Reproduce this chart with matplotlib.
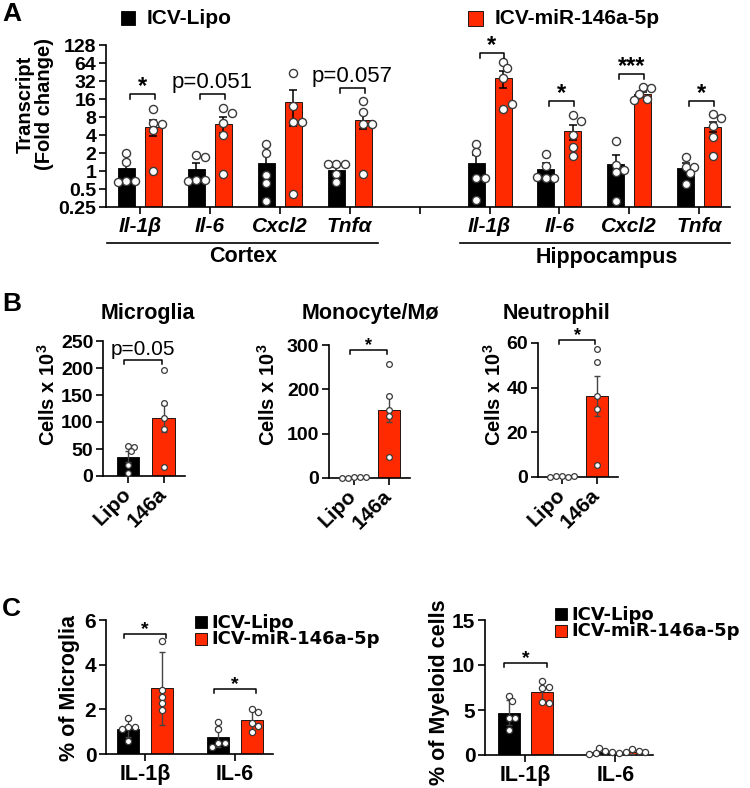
import numpy as np
import matplotlib
matplotlib.use('Agg')
import matplotlib.pyplot as plt
import matplotlib.transforms as mtransforms
from matplotlib.patches import Rectangle
from matplotlib.lines import Line2D
from matplotlib.ticker import NullLocator

plt.rcParams['font.family'] = ['Liberation Sans', 'DejaVu Sans']
plt.rcParams['font.weight'] = 'bold'
plt.rcParams['mathtext.fontset'] = 'custom'
plt.rcParams['mathtext.rm'] = 'Liberation Sans'
plt.rcParams['mathtext.it'] = 'Liberation Sans:italic'
plt.rcParams['mathtext.bf'] = 'Liberation Sans:bold'
plt.rcParams['axes.linewidth'] = 1.2

RED = '#ff2a00'
PT_EDGE = '#3a3a3a'
W, H = 750, 788

# ---------------- panel A: transcript fold change ----------------
genes = ['Il-1β', 'Il-6', 'Cxcl2', 'Tnfα']
regions = ['Cortex', 'Hippocampus']

ctx_lipo_mean = [1.14, 1.10, 1.35, 1.04]
ctx_lipo_sem = [0.35, 0.28, 0.67, 0.14]
ctx_lipo_pts = [[2.0, 1.4, 0.67, 0.67, 0.65], [1.85, 1.7, 0.7, 0.7, 0.68],
                [2.83, 1.97, 0.86, 0.62, 0.31], [1.3, 1.32, 1.3, 0.9, 0.66]]
ctx_mir_mean = [5.5, 6.1, 14.1, 7.1]
ctx_mir_sem = [1.6, 1.8, 8.5, 2.1]
ctx_mir_pts = [[10.9, 6.4, 6.2, 4.8, 1.0], [11.2, 9.4, 6.3, 4.0, 0.9],
               [44, 12.2, 6.7, 6.7, 0.41], [15, 9.8, 6.0, 6.0, 0.9]]

hip_lipo_mean = [1.35, 1.07, 1.31, 1.14]
hip_lipo_sem = [0.5, 0.27, 0.54, 0.2]
hip_lipo_pts = [[2.8, 2.05, 0.75, 0.75, 0.33], [1.9, 1.2, 0.75, 0.75, 0.8],
                [3.2, 1.26, 1.04, 0.95, 0.31], [1.7, 1.18, 1.18, 0.91, 0.6]]
hip_mir_mean = [35.5, 4.66, 19.2, 5.5]
hip_mir_sem = [11.5, 1.3, 1.7, 1.0]
hip_mir_pts = [[67, 53.5, 36, 10.8, 13.2], [8.6, 6.9, 4.0, 2.55, 1.78],
               [25, 24, 19.5, 16, 15.5], [8.9, 7.6, 5.66, 3.7, 1.8]]

ctx_sig = ['*', 'p=0.051', '', 'p=0.057']
ctx_sig_y = [19.2, 19.2, None, 24]
hip_sig = ['*', '*', '***', '*']
hip_sig_y = [95, 14.8, 42, 14.8]

a_yticks = [0.25, 0.5, 1, 2, 4, 8, 16, 32, 64, 128]

# ---------------- panel B: cell counts ----------------
b_titles = ['Microglia', 'Monocyte/Mø', 'Neutrophil']
b_groups = ['Lipo', '146a']
b_lipo_mean = [35.7, 1.5, 0.3]
b_lipo_sem = [10, 0.5, 0.1]
b_lipo_pts = [[55, 54, 46, 20, 6], [1.5, 2, 1, 1.5, 1], [0.3, 0.2, 0.4, 0.3, 0.2]]
b_mir_mean = [107, 154, 36.1]
b_mir_sem = [25, 28, 9]
b_mir_pts = [[196, 136, 107, 86.5, 16], [257, 186, 154, 139, 46.5],
             [57.2, 51.4, 36.4, 30.5, 5.3]]
b_ymax = [250, 300, 60]
b_ystep = [50, 100, 20]
b_sig = ['p=0.05', '*', '*']
b_sig_y = [215, 288, 61.4]

# ---------------- panel C: % positive cells ----------------
c_groups = ['IL-1β', 'IL-6']
mg_lipo_mean = [1.14, 0.77]
mg_lipo_sd = [0.4, 0.46]
mg_lipo_pts = [[1.63, 1.2, 1.2, 1.1, 0.56], [1.44, 1.12, 0.49, 0.49, 0.3]]
mg_mir_mean = [2.95, 1.51]
mg_mir_sd = [1.63, 0.47]
mg_mir_pts = [[5.06, 2.87, 2.57, 2.28, 1.98], [2.02, 1.9, 1.4, 1.25, 1.0]]
mg_sig_y = [5.36, 2.92]

my_lipo_mean = [4.7, 0.3]
my_lipo_sd = [1.4, 0.3]
my_lipo_pts = [[6.55, 6.0, 4.1, 4.1, 2.8], [0.8, 0.4, 0.2, 0.1, 0.3]]
my_mir_mean = [7.0, 0.35]
my_mir_sd = [1.1, 0.25]
my_mir_pts = [[8.2, 7.5, 7.6, 5.9, 5.8], [0.7, 0.4, 0.3, 0.3, 0.2]]
my_sig_y = [10.2, None]

fig = plt.figure(figsize=(W / 100, H / 100), dpi=100)


def px_axes(l, t, r, b):
    return fig.add_axes([l / W, 1 - b / H, (r - l) / W, (b - t) / H])


def ftext(x, y, s, **kw):
    fig.text(x / W, 1 - y / H, s, **kw)


def frect(x, y, w, h, color):
    fig.add_artist(Rectangle((x / W, 1 - (y + h) / H), w / W, h / H, facecolor=color,
                             edgecolor='black', lw=0.6, transform=fig.transFigure))


def style_axes(ax):
    for s in ['top', 'right']:
        ax.spines[s].set_visible(False)
    ax.tick_params(direction='out', length=5, width=1.2, pad=2)


def swarm(ax, x0, vals, diam, s, lw=1.0):
    tr = ax.transData
    ppu = tr.transform((1, 0))[0] - tr.transform((0, 0))[0]
    placed = []
    xs = []
    for v in vals:
        y = tr.transform((x0, v))[1]
        xo = 0
        for k in [0, 1, -1, 2, -2, 3, -3, 4, -4]:
            xo = k * diam * 0.5
            if all((xo - px) ** 2 + (y - py) ** 2 >= (0.85 * diam) ** 2 for px, py in placed):
                break
        placed.append((xo, y))
        xs.append(x0 + xo / ppu)
    ax.scatter(xs, vals, s=s, facecolor='white', edgecolor=PT_EDGE, linewidths=lw, zorder=5,
               clip_on=False)


def bracket(ax, x1, x2, y, label, drop=5, gap=1, size=15):
    tr = ax.transData
    inv = tr.inverted()
    p = tr.transform((x1, y))
    ylow = inv.transform((p[0], p[1] - drop))[1]
    ax.plot([x1, x1, x2, x2], [ylow, y, y, ylow], color='black', lw=1.1, clip_on=False, zorder=6)
    if label.startswith('p'):
        ax.annotate(label, ((x1 + x2) / 2, y), xytext=(0, gap), textcoords='offset points',
                    ha='center', va='bottom', fontsize=size, fontweight='normal',
                    annotation_clip=False)
    else:
        ax.annotate(label, ((x1 + x2) / 2, y), xytext=(0, gap - 4), textcoords='offset points',
                    ha='center', va='bottom', fontsize=size, fontweight='bold',
                    annotation_clip=False)


# ================= panel A =================
axA = px_axes(106, 45, 730, 207)
style_axes(axA)
axA.set_yscale('log', base=2)
axA.set_ylim(0.25, 128)
axA.set_xlim(-0.486, 8.44)
axA.set_yticks(a_yticks)
axA.set_yticklabels([str(t) for t in a_yticks], fontsize=14)
axA.yaxis.set_minor_locator(NullLocator())
axA.set_xticks(range(9))
axA.set_xticklabels(genes + [''] + genes, fontstyle='italic', fontsize=15)

off, bw = 0.193, 0.243
a_sets = [(0, ctx_lipo_mean, ctx_lipo_sem, ctx_lipo_pts, ctx_mir_mean, ctx_mir_sem, ctx_mir_pts,
           ctx_sig, ctx_sig_y),
          (5, hip_lipo_mean, hip_lipo_sem, hip_lipo_pts, hip_mir_mean, hip_mir_sem, hip_mir_pts,
           hip_sig, hip_sig_y)]
for start, lm, ls, lp, mm, ms, mp, sig, sigy in a_sets:
    xs = np.arange(len(genes)) + start
    axA.bar(xs - off, lm, width=bw, color='black', edgecolor='black', lw=0.6, zorder=2)
    axA.bar(xs + off, mm, width=bw, color=RED, edgecolor='black', lw=0.6, zorder=2)
    axA.errorbar(xs - off, lm, yerr=ls, fmt='none', ecolor='black', elinewidth=1.1,
                 capsize=3, capthick=1.1, zorder=3)
    axA.errorbar(xs + off, mm, yerr=ms, fmt='none', ecolor='black', elinewidth=1.1,
                 capsize=3, capthick=1.1, zorder=3)
    for i, x in enumerate(xs):
        swarm(axA, x - off, lp[i], 8.5, 34)
        swarm(axA, x + off, mp[i], 8.5, 34)
        if sig[i]:
            bracket(axA, x - off + 0.05, x + off + 0.02, sigy[i], sig[i], drop=5,
                    size=16 if sig[i].startswith('p') else 17)

ftext(35, 104, 'Transcript\n(Fold change)', rotation=90, ha='center', va='center',
      fontsize=14.5, multialignment='center', linespacing=1.0)
# region underlines and names
fig.add_artist(Line2D([107 / W, 378 / W], [1 - 243 / H] * 2, color='black', lw=1.2))
fig.add_artist(Line2D([460 / W, 730 / W], [1 - 243 / H] * 2, color='black', lw=1.2))
ftext(243, 257, regions[0], ha='center', va='center', fontsize=15.5)
ftext(607, 257, regions[1], ha='center', va='center', fontsize=15.5)

# legend A
frect(121, 11, 14, 14, 'black')
ftext(147, 18.5, 'ICV-Lipo', ha='left', va='center', fontsize=15)
frect(468, 11, 15, 15, RED)
ftext(495, 18.5, 'ICV-miR-146a-5p', ha='left', va='center', fontsize=15)

# ================= panel B =================
b_boxes = [(103, 341, 185, 476), (329, 345, 410, 478), (538, 343, 618, 477)]
b_title_x = [148, 370, 557]
b_label_x = [48, 268, 494]
shift = mtransforms.ScaledTranslation(5 / 100, 0, fig.dpi_scale_trans)
for k in range(3):
    ax = px_axes(*b_boxes[k])
    style_axes(ax)
    ax.set_xlim(-0.7, 1.6)
    ax.set_ylim(0, b_ymax[k])
    ax.set_yticks(np.arange(0, b_ymax[k] + 1, b_ystep[k]))
    ax.tick_params(axis='y', labelsize=14)
    ax.set_xticks([0, 1])
    ax.set_xticklabels(b_groups, rotation=45, ha='right', va='center', rotation_mode='anchor',
                       fontsize=15)
    for lab in ax.get_xticklabels():
        lab.set_transform(lab.get_transform() + shift)
    ax.tick_params(axis='x', pad=6)
    ax.bar(0, b_lipo_mean[k], width=0.63, color='black', edgecolor='black', lw=0.6, zorder=2)
    ax.bar(1, b_mir_mean[k], width=0.63, color=RED, edgecolor='black', lw=0.6, zorder=2)
    ax.errorbar([0, 1], [b_lipo_mean[k], b_mir_mean[k]], yerr=[b_lipo_sem[k], b_mir_sem[k]],
                fmt='none', ecolor='#444444', elinewidth=1, capsize=2.5, capthick=1, zorder=3)
    swarm(ax, 0, b_lipo_pts[k], 6, 17, lw=0.9)
    swarm(ax, 1, b_mir_pts[k], 6, 17, lw=0.9)
    bracket(ax, -0.1, 0.95, b_sig_y[k], b_sig[k], drop=4,
            size=15 if b_sig[k].startswith('p') else 13)
    ftext(b_title_x[k], 313, b_titles[k], ha='center', va='center', fontsize=15.5)
    ftext(b_label_x[k], 395, 'Cells x 10$^{3}$', rotation=90, ha='center', va='center',
          fontsize=14.5)

# ================= panel C =================
c_sets = [((106, 620, 273, 754), -0.433, 1.42, 6, 2, mg_lipo_mean, mg_lipo_sd, mg_lipo_pts,
           mg_mir_mean, mg_mir_sd, mg_mir_pts, mg_sig_y, '% of Microglia', (70, 688),
           (195, 616)),
          ((485, 620, 653, 755), -0.45, 1.417, 15, 5, my_lipo_mean, my_lipo_sd, my_lipo_pts,
           my_mir_mean, my_mir_sd, my_mir_pts, my_sig_y, '% of Myeloid cells', (440, 692),
           (555, 608))]
coff, cbw = 0.185, 0.244
for (box, x0, x1, ymax, ystep, lm, lsd, lp, mm, msd, mp, sigy, ylab, lab_xy, leg_xy) in c_sets:
    ax = px_axes(*box)
    style_axes(ax)
    ax.set_xlim(x0, x1)
    ax.set_ylim(0, ymax)
    ax.set_yticks(np.arange(0, ymax + 1, ystep))
    ax.tick_params(axis='y', labelsize=15)
    ax.set_xticks(range(len(c_groups)))
    ax.set_xticklabels(c_groups, fontsize=15.5)
    xs = np.arange(len(c_groups))
    ax.bar(xs - coff, lm, width=cbw, color='black', edgecolor='black', lw=0.6, zorder=2)
    ax.bar(xs + coff, mm, width=cbw, color=RED, edgecolor='black', lw=0.6, zorder=2)
    ax.errorbar(xs - coff, lm, yerr=lsd, fmt='none', ecolor='#444444', elinewidth=1,
                capsize=2.5, capthick=1, zorder=3)
    ax.errorbar(xs + coff, mm, yerr=msd, fmt='none', ecolor='#444444', elinewidth=1,
                capsize=2.5, capthick=1, zorder=3)
    for i in range(len(c_groups)):
        swarm(ax, i - coff, lp[i], 6.5, 20, lw=0.9)
        swarm(ax, i + coff, mp[i], 6.5, 20, lw=0.9)
        if sigy[i] is not None:
            bracket(ax, i - coff - 0.05, i + coff + 0.05, sigy[i], '*', drop=4, size=14)
    ftext(lab_xy[0], lab_xy[1], ylab, rotation=90, ha='center', va='center', fontsize=15.5)
    lx, ly = leg_xy
    frect(lx, ly, 12, 12, 'black')
    ftext(lx + 16, ly + 6.5, 'ICV-Lipo', ha='left', va='center', fontsize=13,
          family=['DejaVu Sans'])
    frect(lx, ly + 17, 12, 12, RED)
    ftext(lx + 16, ly + 23.5, 'ICV-miR-146a-5p', ha='left', va='center', fontsize=13,
          family=['DejaVu Sans'])

# panel letters
ftext(2, 14, 'A', ha='left', va='center', fontsize=19)
ftext(2, 304, 'B', ha='left', va='center', fontsize=19)
ftext(2, 609, 'C', ha='left', va='center', fontsize=19)

fig.savefig('out.png', dpi=100)
